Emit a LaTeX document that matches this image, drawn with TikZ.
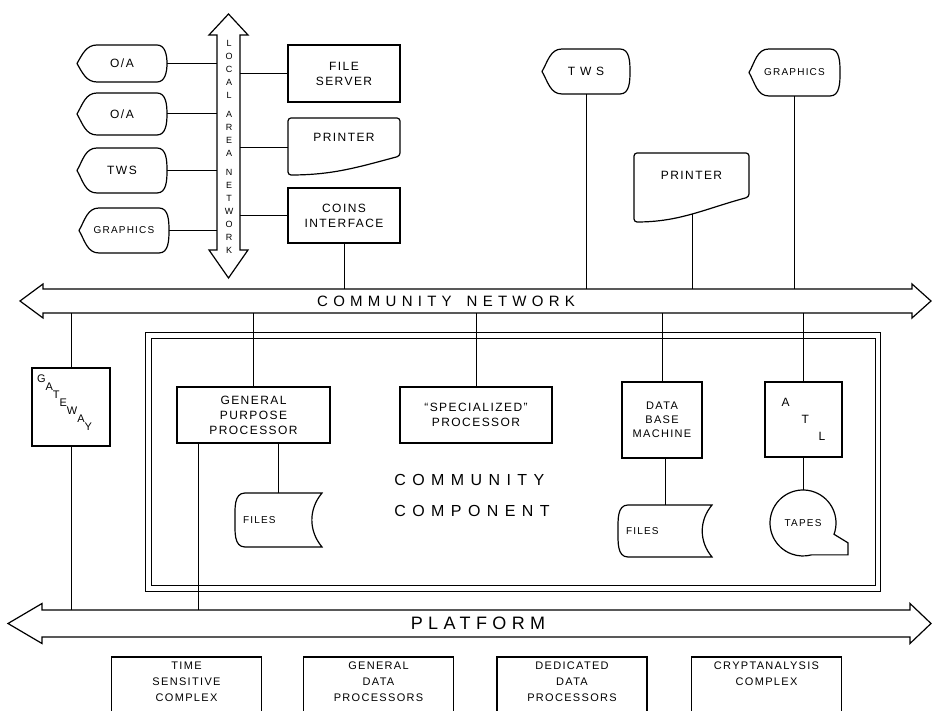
\documentclass[tikz,border=0pt]{standalone}
\usepackage{fontspec}
\newfontfamily\hand[LetterSpace=12]{Liberation Sans}
\usetikzlibrary{calc}

\newcommand\stairs[2]{#1\raisebox{-8pt}{#2}}

\begin{document}
\begin{tikzpicture}[x=1pt, y=1pt, line width=1.2pt,
    every node/.style={font=\hand\fontsize{12}{15}\selectfont, outer sep=0pt, inner sep=2pt, align=center},
    unitbox/.style={draw},
    smalltext/.style={font=\hand\fontsize{10}{12}\selectfont},
    midtext/.style={font=\hand\fontsize{11}{14}\selectfont},
    lantext/.style={font=\hand\fontsize{9}{13}\selectfont\addfontfeature{LetterSpace=0}},
    bigtext/.style={font=\hand\fontsize{15}{18}\selectfont\addfontfeature{LetterSpace=35}},
    lowbox/.style={draw, anchor=north, minimum width=150, inner ysep=5pt, text depth=40pt, font=\hand\fontsize{11}{16}\selectfont},
    link/.style={line width=1pt}]
  \useasboundingbox (0,0) rectangle (933,711);
  \clip (0,0) rectangle (933,711);

  % Local area network
  \draw (228.5,697) -- (248,676) -- (240,676) -- (240,461) -- (248,461) -- (228.5,433)
     -- (209,461) -- (217,461) -- (217,676) -- (209,676) -- cycle;
  \coordinate (lanL) at (217,565);
  \coordinate (lanR) at (240,565);
  \node[lantext] (lanlbl) at (229,564) {L\\O\\C\\A\\L\\[6pt]A\\R\\E\\A\\[6pt]N\\E\\T\\W\\O\\R\\K};

  % Community network
  \draw (20,410) -- (43,427) -- (43,422) -- (912,422) -- (912,427) -- (931,410)
     -- (912,393) -- (912,398) -- (43,398) -- (43,393) -- cycle;
  \coordinate (cnT) at (480,422);
  \coordinate (cnB) at (480,398);
  \node[bigtext] (cnlbl) at (446,410) {COMMUNITY\quad NETWORK};

  % Platform
  \draw (8,87.5) -- (42,107.5) -- (42,101) -- (910,101) -- (910,107.5) -- (931,87.5)
     -- (910,67.5) -- (910,74) -- (42,74) -- (42,67.5) -- cycle;
  \coordinate (pfT) at (480,101);
  \node[font=\hand\fontsize{18}{20}\selectfont\addfontfeature{LetterSpace=30}] (pflbl) at (478,88) {PLATFORM};

  % Community component
  \node[draw, double, double distance=4.5pt, minimum width=729.5, minimum height=253] (comp) at (513.25,249) {};
  \node[bigtext, font=\hand\fontsize{16}{31}\selectfont\addfontfeature{LetterSpace=40}, align=left] (complbl) at (472,216) {COMMUNITY\\COMPONENT};

  % LAN stations
  \node[minimum width=90, minimum height=37] (oa1) at (122,647.5) {O/A};
  \node[minimum width=90, minimum height=42] (oa2) at (122,597) {O/A};
  \node[minimum width=90, minimum height=45] (tws1) at (122,540.5) {TWS};
  \node[smalltext, minimum width=90, minimum height=45] (gfx1) at (124,480.5) {GRAPHICS};

  \node[unitbox, minimum width=112, minimum height=57] (filesrv) at (344,637.5) {FILE\\SERVER};
  \node[minimum width=112, minimum height=38] (prn1) at (344,574) {PRINTER};
  \node[unitbox, minimum width=112, minimum height=55] (coins) at (344,495.5) {COINS\\INTERFACE};

  % Community network stations
  \node[minimum width=88, minimum height=45] (tws2) at (586,639.5) {T~W~S};
  \node[smalltext, minimum width=91, minimum height=47] (gfx2) at (794.5,638.5) {GRAPHICS};
  \node[minimum width=115, minimum height=44] (prn2) at (691.5,536) {PRINTER};

  \node[unitbox, minimum width=78, minimum height=78] (gateway) at (71,304) {};
  \node[font=\hand\fontsize{11}{13}\selectfont\addfontfeature{LetterSpace=30}, anchor=north west, inner sep=0pt] (gatelbl) at (37,336)
    {\stairs{G}{\stairs{A}{\stairs{T}{\stairs{E}{\stairs{W}{\stairs{A}{Y}}}}}}};

  \node[unitbox, minimum width=153, minimum height=56] (gpp) at (253.5,296) {GENERAL\\PURPOSE\\PROCESSOR};
  \node[unitbox, minimum width=152, minimum height=56] (spec) at (476,296) {“SPECIALIZED”\\PROCESSOR};
  \node[unitbox, midtext, minimum width=80, minimum height=76] (dbm) at (662,291) {DATA\\BASE\\MACHINE};
  \node[unitbox, minimum width=77, minimum height=75, align=left] (atl) at (803.5,291.5) {A\\[2pt]\hspace*{20pt}T\\[2pt]\hspace*{37pt}L};

  \node[smalltext, minimum width=87, minimum height=54, text width=71, align=left, inner xsep=8pt] (files1) at (278.5,191) {FILES};
  \node[smalltext, minimum width=94, minimum height=52, text width=78, align=left, inner xsep=8pt] (files2) at (665,180) {FILES};
  \node[smalltext, circle, minimum size=66] (tapes) at (803,188) {TAPES};

  % Platform complexes
  \foreach \n/\x/\t in {tsc/186.5/{TIME\\SENSITIVE\\COMPLEX}, gdp/378.5/{GENERAL\\DATA\\PROCESSORS},
                        ddp/572/{DEDICATED\\DATA\\PROCESSORS}, cac/766.5/{CRYPTANALYSIS\\COMPLEX}}
    \node[lowbox] (\n) at (\x,54) {\t};

  % outlines
  \foreach \n in {oa1,oa2,tws1,gfx1,tws2,gfx2}
    \draw (\n.west) to[out=60,in=180] ([xshift=20]\n.north west) -- ([xshift=-10]\n.north east)
      to[out=0,in=90] (\n.east) to[out=-90,in=0] ([xshift=-10]\n.south east)
      -- ([xshift=20]\n.south west) to[out=180,in=-60] (\n.west);
  \foreach \n/\d in {prn1/19, prn2/25}
    \draw[rounded corners=3] (\n.north east) -- (\n.north west) -- ([yshift=-\d]\n.south west)
      to[out=0,in=195] coordinate[pos=0.5] (\n-w) (\n.south east) -- cycle;
  \foreach \n in {files1,files2}
    \draw (\n.north east) to[out=-130,in=130] (\n.south east) -- ([xshift=10]\n.south west)
      to[out=180,in=-90] (\n.west) to[out=90,in=180] ([xshift=10]\n.north west) -- cycle;
  \draw (tapes.-20) arc[start angle=-20, end angle=285, radius=33] -- ++(36.5,0) -- ++(0,12) -- cycle;

  % LAN links
  \foreach \n in {oa1,oa2,tws1,gfx1}
    \draw[link] (\n.east) -- (\n.east -| lanL);
  \draw[link] (filesrv.west) -- (filesrv.west -| lanR);
  \draw[link] ([yshift=-11]prn1.west) -- ([yshift=-11]prn1.west -| lanR);
  \draw[link] (coins.west) -- (coins.west -| lanR);

  % community network links
  \draw[link] (coins.south) -- (coins.south |- cnT);
  \draw[link] (tws2.south) -- (tws2.south |- cnT);
  \draw[link] (prn2-w) -- (prn2-w |- cnT);
  \draw[link] (gfx2.south) -- (gfx2.south |- cnT);
  \foreach \n in {gateway,gpp,spec,dbm,atl}
    \draw[link] (\n.north) -- (\n.north |- cnB);

  % local links
  \draw[link] (files1.north) -- (files1.north |- gpp.south);
  \draw[link] (files2.north) -- (files2.north |- dbm.south);
  \draw[link] (tapes.north) -- (tapes.north |- atl.south);

  % platform links
  \draw[link] (gateway.south) -- (gateway.south |- pfT);
  \draw[link] ([xshift=21]gpp.south west) -- ([xshift=21]gpp.south west |- pfT);
\end{tikzpicture}
\end{document}
